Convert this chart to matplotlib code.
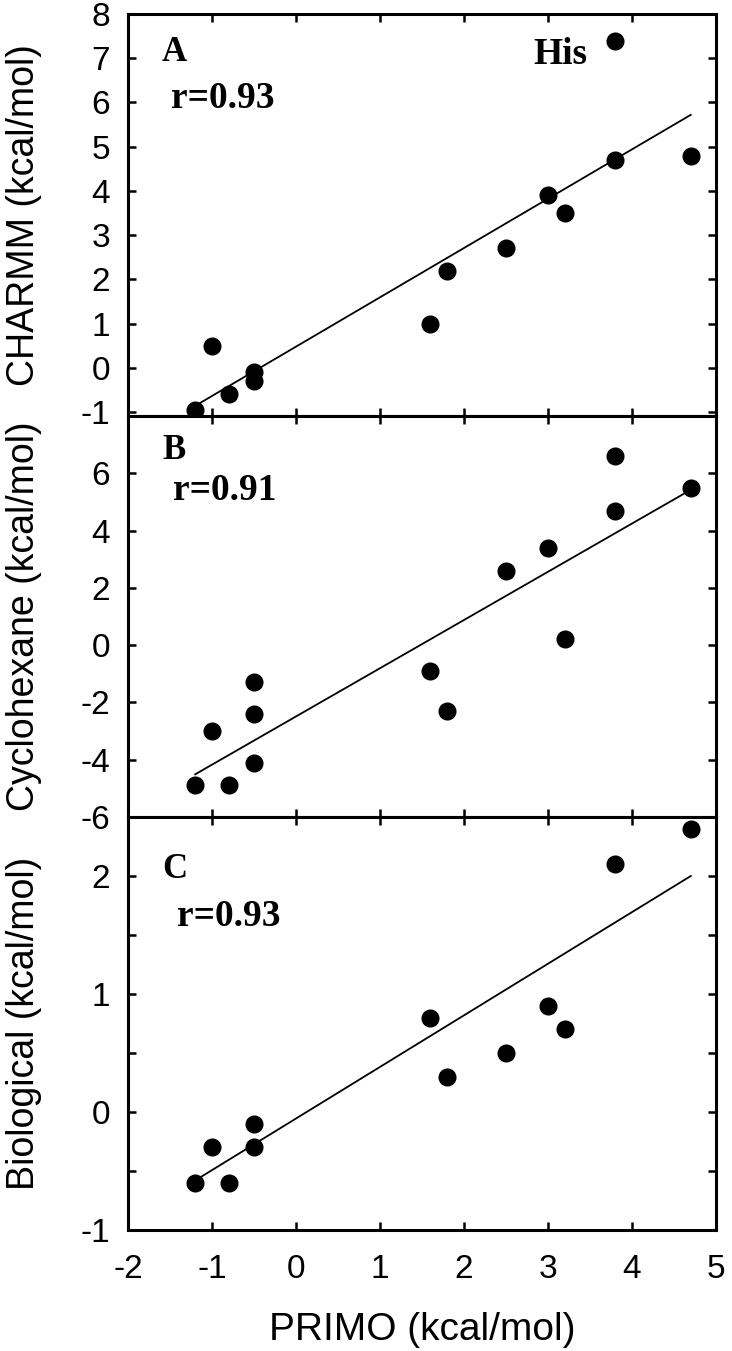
import numpy as np
import matplotlib
matplotlib.use("Agg")
from matplotlib import pyplot as plt
from matplotlib.ticker import MultipleLocator

plt.rcParams['axes.unicode_minus'] = False

# PRIMO values (x) and the three reference scales (y)
primo_a = [-1.2, -1.0, -0.8, -0.5, -0.5, 1.6, 1.8, 2.5, 3.0, 3.2, 3.8, 3.8, 4.7]
charmm = [-0.95, 0.5, -0.6, -0.1, -0.3, 1.0, 2.2, 2.7, 3.9, 3.5, 4.7, 7.4, 4.8]

primo_b = [-1.2, -1.0, -0.8, -0.5, -0.5, -0.5, 1.6, 1.8, 2.5, 3.0, 3.2, 3.8, 3.8, 4.7]
cyclohexane = [-4.9, -3.0, -4.9, -1.3, -2.4, -4.1, -0.9, -2.3, 2.6, 3.4, 0.2, 6.6, 4.7, 5.5]

primo_c = [-1.2, -1.0, -0.8, -0.5, -0.5, 1.6, 1.8, 2.5, 3.0, 3.2, 3.8, 4.7]
biological = [-0.6, -0.3, -0.6, -0.1, -0.3, 0.8, 0.3, 0.5, 0.9, 0.7, 2.1, 2.4]

# fitted lines, end points as drawn in the figure
fit_x_a = [-1.2, 4.7]
fit_y_a = [-0.86, 5.72]
fit_x_b = [-1.2, 4.65]
fit_y_b = [-4.51, 5.34]
fit_x_c = [-1.2, 4.7]
fit_y_c = [-0.58, 2.0]

panel_letters = ["A", "B", "C"]
r_labels = ["r=0.93", "r=0.91", "r=0.93"]
y_labels = ["CHARMM (kcal/mol)", "Cyclohexane (kcal/mol)", "Biological (kcal/mol)"]

sans = ["Liberation Sans", "DejaVu Sans"]
serif = ["Liberation Serif", "DejaVu Serif"]

fig = plt.figure(figsize=(7.32, 13.51), dpi=100)

W, H = 732.0, 1351.0
left, right = 128, 716
edges = [14, 416, 817, 1230]   # pixel rows of panel borders

axes = []
for i in range(3):
    top, bot = edges[i], edges[i + 1]
    ax = fig.add_axes([left / W, 1 - bot / H, (right - left) / W, (bot - top) / H])
    axes.append(ax)

data = [(primo_a, charmm, fit_x_a, fit_y_a),
        (primo_b, cyclohexane, fit_x_b, fit_y_b),
        (primo_c, biological, fit_x_c, fit_y_c)]

ylims = [(-1.09, 8), (-6, 8), (-1, 2.5)]
yticks = [np.arange(-1, 9, 1), np.arange(-6, 7, 2), np.arange(-1, 3, 1)]

for i, ax in enumerate(axes):
    xs, ys, fx, fy = data[i]
    ax.plot(fx, fy, color='black', linewidth=1.3, zorder=2)
    ax.plot(xs, ys, 'o', color='black', markersize=12, zorder=3, clip_on=False)
    ax.set_xlim(-2, 5)
    ax.set_ylim(*ylims[i])
    ax.set_xticks(np.arange(-2, 6, 1))
    ax.set_yticks(yticks[i])
    if i == 2:
        ax.yaxis.set_minor_locator(MultipleLocator(0.5))
    for sp in ax.spines.values():
        sp.set_linewidth(2.2)
    ax.tick_params(which='both', direction='in', top=True, right=True,
                   length=6, width=1.8, labelsize=24, pad=13)
    if i < 2:
        ax.tick_params(axis='x', labelbottom=False)
    for lab in ax.get_xticklabels() + ax.get_yticklabels():
        lab.set_family(sans)
    ax.set_ylabel(y_labels[i], fontsize=27, family=sans)
    ax.yaxis.set_label_coords(-0.146, 0.5)

    ax.text(0.058, [0.903, 0.915, 0.872][i], panel_letters[i], transform=ax.transAxes,
            fontsize=25, fontweight='bold', family=serif, va='center', ha='left')
    ax.text([0.073, 0.076, 0.083][i], [0.79, 0.815, 0.758][i], r_labels[i],
            transform=ax.transAxes, fontsize=27, fontweight='bold', family=serif,
            va='center', ha='left')

axes[0].text(0.69, 0.90, "His", transform=axes[0].transAxes, fontsize=27,
             fontweight='bold', family=serif, va='center', ha='left')

axes[2].set_xlabel("PRIMO (kcal/mol)", fontsize=28, family=sans, labelpad=20)
axes[2].tick_params(axis='x', pad=17)

plt.savefig("out.png", dpi=100)
